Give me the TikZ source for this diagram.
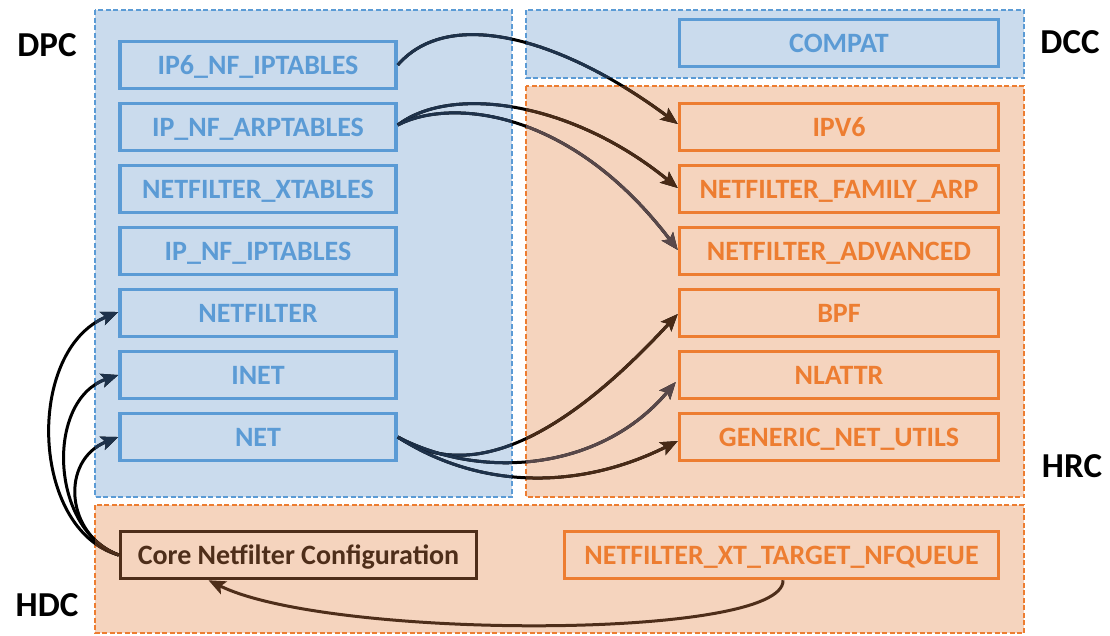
\documentclass[tikz,border=0pt]{standalone}
\usepackage{fontspec}
\setmainfont{Carlito}
\usetikzlibrary{arrows.meta}
\definecolor{bfill}{RGB}{202,219,237}
\definecolor{ofill}{RGB}{245,212,190}
\definecolor{bline}{RGB}{91,155,213}
\definecolor{oline}{RGB}{237,125,49}
\definecolor{dbrown}{RGB}{78,46,26}
\definecolor{navyc}{RGB}{30,50,75}
\definecolor{arrbrown}{RGB}{72,42,22}
\definecolor{arrgrey}{RGB}{88,72,74}
\tikzset{
  bluecont/.style={draw=bline,fill=bfill,line width=1.5pt,dash pattern=on 5pt off 2.5pt},
  orangecont/.style={draw=oline,fill=ofill,line width=1.5pt,dash pattern=on 5pt off 2.5pt},
  boxbase/.style={line width=3.5pt,minimum height=47pt,inner sep=0pt,text height=18pt,text depth=0pt,font=\bfseries\fontsize{28}{28}\selectfont},
  bluebox/.style={boxbase,draw=bline,text=bline,minimum width=276pt},
  orangebox/.style={boxbase,draw=oline,text=oline,minimum width=319pt},
  corebox/.style={boxbase,draw=dbrown,text=dbrown},
  lbl/.style={font=\bfseries\fontsize{35}{35}\selectfont,text=black,inner sep=0pt},
  conn/.style={line width=3pt,-{Stealth[length=17pt,width=14pt,inset=3.5pt]}},
}
\newcommand\tricolor[2]{%
  \draw[conn,black] #1;
  \begin{scope}\clip (95,10) rectangle (512,497) (526,10) rectangle (1024,78);
    \draw[conn,navyc] #1;\end{scope}
  \begin{scope}\clip (526,86) rectangle (1024,497) (95,505) rectangle (1024,633);
    \draw[conn,#2] #1;\end{scope}}
\begin{document}
\begin{tikzpicture}[x=1pt,y=-1pt]
\useasboundingbox (0,0) rectangle (1110,635);
% containers
\path[bluecont] (95,10) rectangle (512,497);
\path[bluecont] (526,10) rectangle (1024,78);
\path[orangecont] (526,86) rectangle (1024,497);
\path[orangecont] (95,505) rectangle (1024,633);
% labels
\node[lbl] (dpc) at (47,45) {DPC};
\node[lbl] (dcc) at (1070,42) {DCC};
\node[lbl] (hrc) at (1072,466) {HRC};
\node[lbl] (hdc) at (47,605) {HDC};
% left boxes
\node[bluebox] (ip6) at (258,65) {IP6\_NF\_IPTABLES};
\node[bluebox] (arp) at (258,127) {IP\_NF\_ARPTABLES};
\node[bluebox] (xtab) at (258,189) {NETFILTER\_XTABLES};
\node[bluebox] (ipt) at (258,251) {IP\_NF\_IPTABLES};
\node[bluebox] (nf) at (258,313) {NETFILTER};
\node[bluebox] (inet) at (258,375) {INET};
\node[bluebox] (net) at (258,437) {NET};
% right boxes
\node[bluebox,minimum width=319pt] (compat) at (839,43) {COMPAT};
\node[orangebox] (ipv6) at (839,127) {IPV6};
\node[orangebox] (farp) at (839,189) {NETFILTER\_FAMILY\_ARP};
\node[orangebox] (adv) at (839,251) {NETFILTER\_ADVANCED};
\node[orangebox] (bpf) at (839,313) {BPF};
\node[orangebox] (nlattr) at (839,375) {NLATTR};
\node[orangebox] (gnu) at (839,437) {GENERIC\_NET\_UTILS};
% bottom boxes
\node[corebox,minimum width=356pt] (core) at (298.5,555) {Core Netfilter Configuration};
\node[orangebox,minimum width=434pt] (nfq) at (781.5,555) {NETFILTER\_XT\_TARGET\_NFQUEUE};
% connectors
\tricolor{(ip6.east) .. controls (450,5) and (565,40) .. ([yshift=3pt]ipv6.west)}{arrbrown}
\tricolor{([yshift=2pt]arp.east) .. controls (450,85) and (570,100) .. ([yshift=1pt]farp.west)}{arrbrown}
\tricolor{([yshift=2pt]arp.east) .. controls (450,98) and (570,108) .. ([yshift=1pt]adv.west)}{arrgrey}
\tricolor{(net.east) .. controls (480,490) and (580,420) .. ([yshift=-1pt]bpf.west)}{arrbrown}
\tricolor{(net.east) .. controls (480,480) and (600,472) .. ([xshift=-2pt,yshift=-7pt]nlattr.west)}{arrgrey}
\tricolor{(net.east) .. controls (480,490) and (580,490) .. ([yshift=-4pt]gnu.west)}{arrbrown}
\tricolor{(core.west) .. controls (30,530) and (25,350) .. ([yshift=1pt]nf.west)}{dbrown}
\tricolor{(core.west) .. controls (50,530) and (45,400) .. (inet.west)}{dbrown}
\tricolor{(core.west) .. controls (65,535) and (60,460) .. (net.west)}{dbrown}
\draw[conn,dbrown] ([xshift=1.5pt]nfq.south) .. controls (785,640) and (330,640) .. ([xshift=-90pt]core.south);
\end{tikzpicture}
\end{document}
